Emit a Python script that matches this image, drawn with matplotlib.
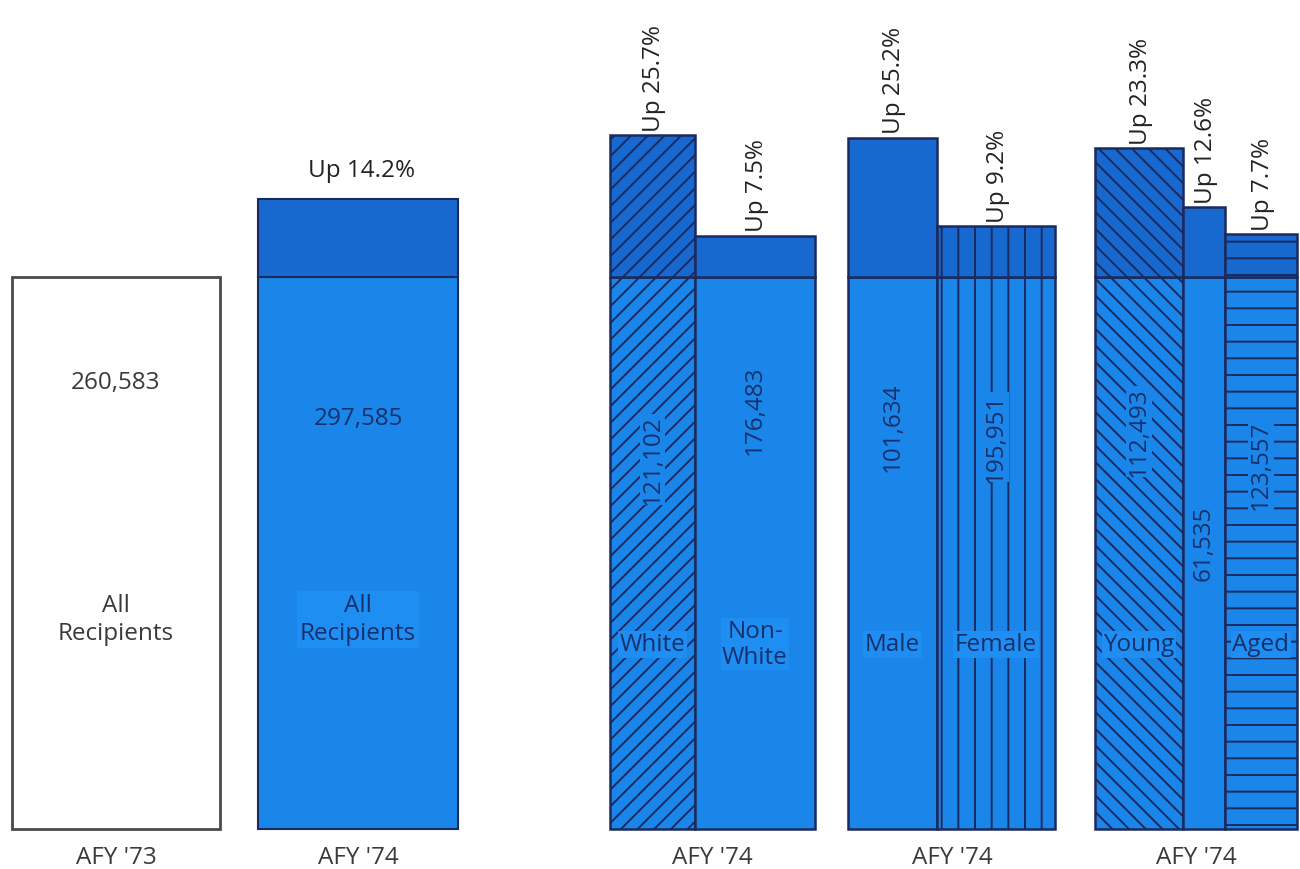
import matplotlib.pyplot as plt
import matplotlib as mpl

# data: AFY '73 level = 1.0 for each group, bar top = 1 + increase
all73_value = "260,583"
all74_value = "297,585"
all74_up = 14.2

groups = ["race", "sex", "age"]
categories = [["White", "Non-\nWhite"], ["Male", "Female"], ["Young", "", "Aged"]]
counts = [["121,102", "176,483"], ["101,634", "195,951"], ["112,493", "61,535", "123,557"]]
increases = [[25.7, 7.5], [25.2, 9.2], [23.3, 12.6, 7.7]]
hatches = [["//", ""], ["", "|"], ["\\\\", "", "-"]]
xlabels = ["AFY '73", "AFY '74", "AFY '74", "AFY '74", "AFY '74"]

# layout (pixel units along x)
lefts = [[610, 695], [848, 937], [1095, 1183, 1225]]
widths = [[85, 120], [89, 118], [88, 42, 72]]
count_y = [[0.67, 0.76], [0.73, 0.71], [0.72, 0.52, 0.66]]

BLUE = "#1a86ea"
DARK = "#1769d0"
EDGE = "#1b2a5e"
NAVY = "#16306c"
GRAY = "#3a3a3a"
PX = 552.0
FS = 17.5

mpl.rcParams['font.family'] = ['Open Sans', 'DejaVu Sans']
mpl.rcParams['hatch.linewidth'] = 1.4
mpl.rcParams['hatch.color'] = EDGE

fig = plt.figure(figsize=(13, 8.7), dpi=100)
ax = fig.add_axes([0, 0, 1, 1])
ax.set_xlim(0, 1300)
ax.set_ylim(-40 / PX, 830 / PX)
ax.axis("off")

# AFY '73 all recipients
ax.bar(12, 1.0, width=208, align="edge", color="white", edgecolor="#4a4a4a", linewidth=2)
ax.text(116, 0.81, all73_value, ha="center", va="center", fontsize=FS, color=GRAY)
ax.text(116, 0.38, "All\nRecipients", ha="center", va="center", fontsize=FS, color=GRAY,
        linespacing=1.2)

# AFY '74 all recipients
h74 = 1 + all74_up / 100
ax.bar(258, 1.0, width=200, align="edge", color=BLUE, edgecolor=EDGE, linewidth=1.5)
ax.bar(258, h74 - 1, bottom=1.0, width=200, align="edge", color=DARK, edgecolor=EDGE, linewidth=1.5)
ax.text(358, 0.745, all74_value, ha="center", va="center", fontsize=FS, color=NAVY)
ax.text(358, 0.38, "All\nRecipients", ha="center", va="center", fontsize=FS, color=NAVY,
        linespacing=1.2, bbox=dict(facecolor="#1f8ef2", edgecolor="none", pad=2))
ax.text(362, h74 + 0.03, "Up %.1f%%" % all74_up, ha="center", va="bottom", fontsize=FS, color="#222222")

for g in range(len(groups)):
    for i in range(len(categories[g])):
        x0 = lefts[g][i]
        w = widths[g][i]
        top = 1 + increases[g][i] / 100
        ax.bar(x0, 1.0, width=w, align="edge", color=BLUE, edgecolor=EDGE,
               linewidth=1.8, hatch=hatches[g][i])
        ax.bar(x0, top - 1, bottom=1.0, width=w, align="edge", color=DARK, edgecolor=EDGE,
               linewidth=1.8, hatch=hatches[g][i])
        cx = x0 + w / 2
        ax.text(cx, count_y[g][i], counts[g][i], ha="center", va="center", rotation=90,
                fontsize=FS, color=NAVY,
                bbox=dict(facecolor=BLUE, edgecolor="none", pad=0.5))
        if categories[g][i]:
            ax.text(cx, 0.335, categories[g][i], ha="center", va="center", fontsize=FS,
                    color=NAVY, linespacing=1.1,
                    bbox=dict(facecolor="#1f8ef2", edgecolor="none", pad=1))
        ax.text(cx + 2, top + 0.008, "Up %.1f%%" % increases[g][i], ha="center", va="bottom",
                rotation=90, fontsize=FS, color="#222222")

# bottom labels
label_x = [116, 358, 712, 952, 1196]
for lx, lab in zip(label_x, xlabels):
    ax.text(lx, -28 / PX, lab, ha="center", va="center", fontsize=FS, color=GRAY)

fig.savefig("out.png", dpi=100)
